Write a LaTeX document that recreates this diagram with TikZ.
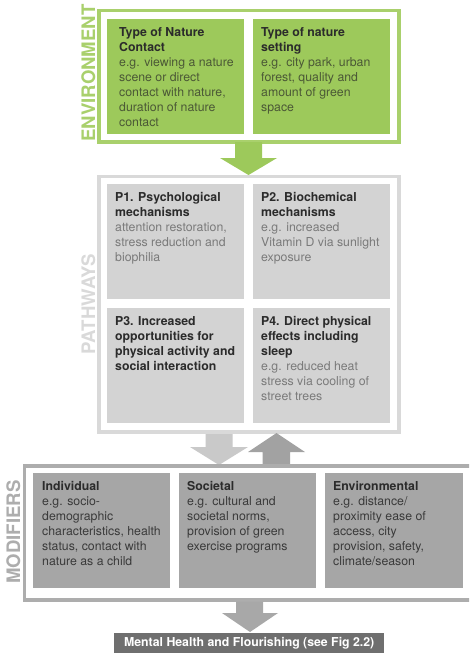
\documentclass[tikz,border=0pt]{standalone}
\usepackage{fontspec}
\setmainfont{TeX Gyre Heros}
\usetikzlibrary{calc}
\definecolor{gfill}{HTML}{9DC95B}
\definecolor{gframe}{HTML}{A9D06C}
\definecolor{gbody}{HTML}{4B5836}
\definecolor{headc}{HTML}{2B2B2B}
\definecolor{pfill}{HTML}{D3D3D3}
\definecolor{pframe}{HTML}{D9D9D9}
\definecolor{pbody}{HTML}{7A7A7A}
\definecolor{mfill}{HTML}{A6A6A6}
\definecolor{mframe}{HTML}{ADADAD}
\definecolor{mbody}{HTML}{3A3A3A}
\definecolor{downc}{HTML}{C9C9C9}
\definecolor{upc}{HTML}{A2A2A2}
\definecolor{botarrow}{HTML}{A8A8A8}
\definecolor{botfill}{HTML}{6F6F6F}
\newcommand\hd[1]{\textcolor{headc}{\bfseries #1}}
\tikzset{
  box/.style={anchor=north west, inner sep=0pt, outer sep=0pt, minimum width=137pt, minimum height=115pt},
  frame/.style={anchor=north west, inner sep=0pt, outer sep=0pt, line width=3.5pt},
  txt/.style={anchor=north west, inner sep=0pt, align=left, font=\fontsize{12.3}{15}\selectfont},
  lbl/.style={rotate=90, anchor=base, inner sep=0pt, font=\fontsize{18.6}{20}\selectfont\bfseries},
}
\begin{document}
\begin{tikzpicture}[x=1pt,y=-1pt]
\useasboundingbox (0,0) rectangle (469,656);
\clip (0,0) rectangle (469,656);
\fill[white] (0,0) rectangle (469,656);

% ---------- Environment ----------
\node[frame, draw=gframe, minimum width=300pt, minimum height=131.5pt] (envframe) at (99,10.5) {};
\node[box, fill=gfill] (g1) at (107,19) {};
\node[box, fill=gfill] (g2) at (253,19) {};
\node[txt, text=gbody] (g1t) at ($(g1.north west)+(12,6.5)$)
  {\strut\hd{Type of Nature}\\\hd{Contact}\\e.g. viewing a nature\\scene or direct\\contact with nature,\\duration of nature\\contact};
\node[txt, text=gbody] (g2t) at ($(g2.north west)+(8,6.5)$)
  {\strut\hd{Type of nature}\\\hd{setting}\\e.g. city park, urban\\forest, quality and\\amount of green\\space};
\node[lbl, text=gframe] (envlbl) at (95,73) {ENVIRONMENT};

% green arrow
\fill[gfill] (235,142) -- (262,142) -- (262,158) -- (277,158) -- (248.5,175) -- (220,158) -- (235,158) -- cycle;

% ---------- Pathways ----------
\node[frame, draw=pframe, minimum width=300pt, minimum height=255.5pt] (pframe) at (99,176.5) {};
\node[box, fill=pfill] (p1) at (107,184) {};
\node[box, fill=pfill] (p2) at (253,184) {};
\node[box, fill=pfill] (p3) at (107,308) {};
\node[box, fill=pfill] (p4) at (253,308) {};
\node[txt, text=pbody] (p1t) at ($(p1.north west)+(8,6.5)$)
  {\strut\hd{P1. Psychological}\\\hd{mechanisms}\\attention restoration,\\stress reduction and\\biophilia};
\node[txt, text=pbody] (p2t) at ($(p2.north west)+(8,6.5)$)
  {\strut\hd{P2. Biochemical}\\\hd{mechanisms}\\e.g. increased\\Vitamin D via sunlight\\exposure};
\node[txt, text=pbody] (p3t) at ($(p3.north west)+(8,6.5)$)
  {\strut\hd{P3. Increased}\\\hd{opportunities for}\\\hd{physical activity and}\\\hd{social interaction}};
\node[txt, text=pbody] (p4t) at ($(p4.north west)+(8,6.5)$)
  {\strut\hd{P4. Direct physical}\\\hd{effects including}\\\hd{sleep}\\e.g. reduced heat\\stress via cooling of\\street trees};
\node[lbl, text=pframe] (plbl) at (95,304) {PATHWAYS};

% arrows between pathways and modifiers
\fill[downc] (205.5,434) -- (232.5,434) -- (232.5,447) -- (248,447) -- (219,465) -- (190,447) -- (205.5,447) -- cycle;
\fill[upc] (262.5,466) -- (290,466) -- (290,452) -- (305,452) -- (276.5,433) -- (248,452) -- (262.5,452) -- cycle;

% ---------- Modifiers ----------
\node[frame, draw=mframe, minimum width=460pt, minimum height=134pt] (mframe) at (24.5,466) {};
\node[box, fill=mfill] (m1) at (33,473) {};
\node[box, fill=mfill] (m2) at (179,473) {};
\node[box, fill=mfill, minimum width=138pt] (m3) at (325,473) {};
\node[txt, text=mbody] (m1t) at ($(m1.north west)+(9,6.5)$)
  {\strut\hd{Individual}\\e.g. socio-\\demographic\\characteristics, health\\status, contact with\\nature as a child};
\node[txt, text=mbody] (m2t) at ($(m2.north west)+(8,6.5)$)
  {\strut\hd{Societal}\\e.g. cultural and\\societal norms,\\provision of green\\exercise programs};
\node[txt, text=mbody] (m3t) at ($(m3.north west)+(8,6.5)$)
  {\strut\hd{Environmental}\\e.g. distance/\\proximity ease of\\access, city\\provision, safety,\\climate/season};
\node[lbl, text=mframe] (mlbl) at (20,532) {MODIFIERS};

% bottom arrow and outcome box
\fill[botarrow] (236,601.5) -- (263,601.5) -- (263,613) -- (278,613) -- (250,632) -- (222,613) -- (236,613) -- cycle;
\node[anchor=north west, inner sep=0pt, fill=botfill, minimum width=270pt, minimum height=20pt,
      text=white, font=\fontsize{12.3}{15}\selectfont\bfseries] (outcome) at (114,633)
  {Mental Health and Flourishing (see Fig 2.2)};
\end{tikzpicture}
\end{document}
